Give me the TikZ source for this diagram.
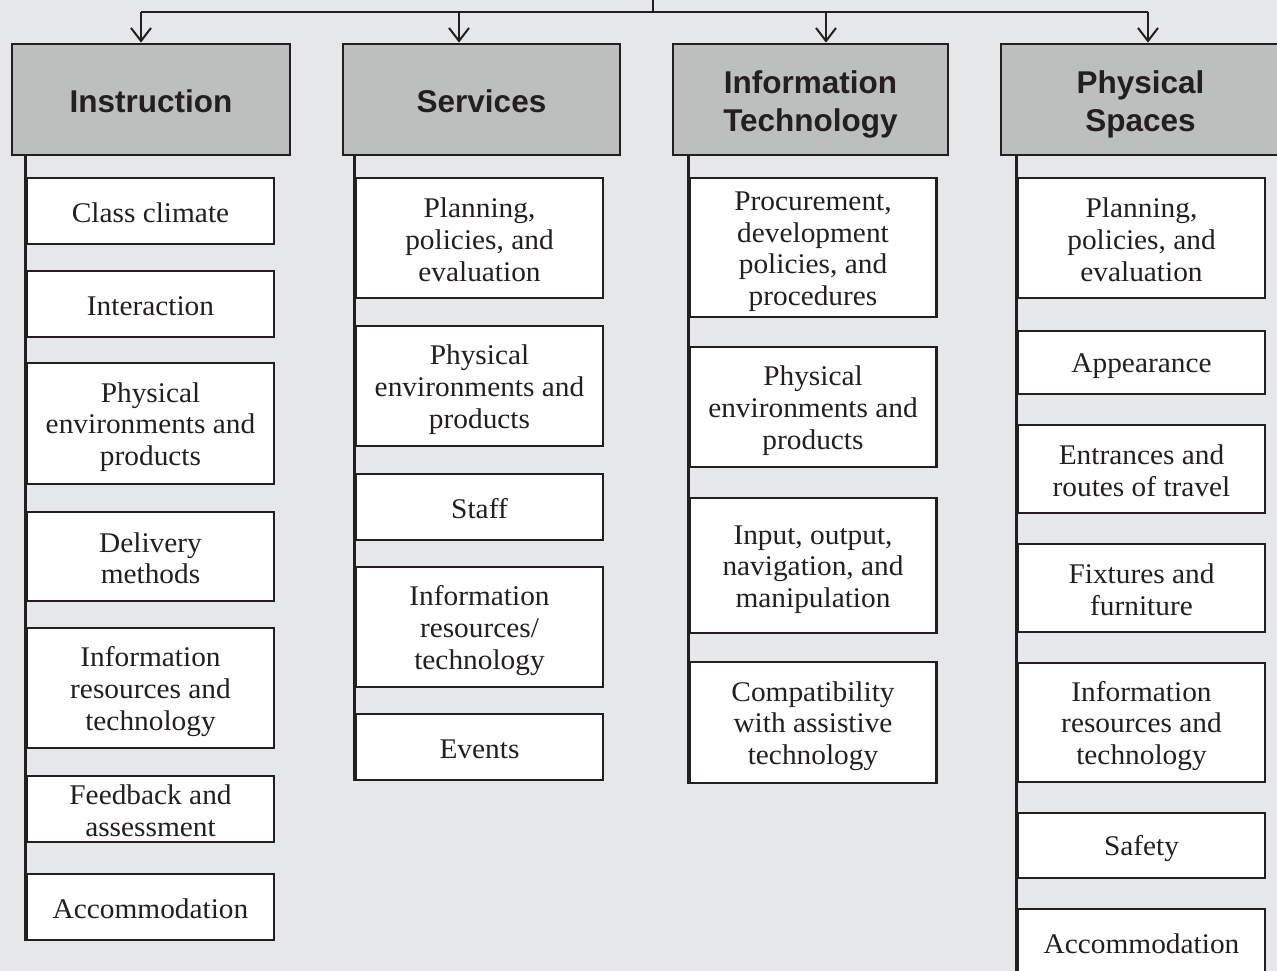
\documentclass[tikz,border=0pt]{standalone}
\usepackage{fontspec}
\setmainfont[FakeStretch=1.03]{Liberation Serif}
\newfontfamily\hdfont{Liberation Sans}
\usetikzlibrary{arrows.meta}
\definecolor{bgc}{HTML}{E6E7E8}
\definecolor{hdc}{HTML}{BDBFBE}
\definecolor{ink}{HTML}{231F20}
\newcommand\bodytop{\rule{0pt}{27pt}}
\newcommand\bodybot{\rule[-4pt]{0pt}{4pt}}
\newcommand\hdtop{\rule{0pt}{35.6pt}}
\newcommand\hdbot{\rule[-9pt]{0pt}{9pt}}
\tikzset{
  hdr/.style={draw=ink, line width=2.8pt, fill=hdc, align=flush center, inner sep=0pt,
    text width=268, text=ink, font=\hdfont\fontsize{31.5}{38}\selectfont\bfseries,
    execute at begin node=\hdtop, execute at end node=\hdbot},
  itembox/.style={draw=ink, line width=2.7pt, fill=white, align=flush center, inner sep=0pt,
    text width=240, text=ink, minimum width=247, font=\fontsize{28.5}{31.7}\selectfont,
    execute at begin node=\bodytop, execute at end node=\bodybot},
  spine/.style={draw=ink, line width=2.7pt},
  feed/.style={draw=ink, line width=2pt},
  feedarrow/.style={feed, -{Straight Barb[length=13pt,width=20pt,line width=2pt]}}
}
\begin{document}
\begin{tikzpicture}[x=1pt,y=-1pt]
\useasboundingbox[fill=bgc] (0,0) rectangle (1277,971);

% headers
\node[hdr, minimum width=278, minimum height=111] (h1) at (151,99.5) {Instruction};
\node[hdr, minimum width=277, minimum height=111] (h2) at (481.5,99.5) {Services};
\node[hdr, minimum width=275, minimum height=111] (h3) at (810.5,99.5) {Information\\Technology};
\node[hdr, minimum width=279, minimum height=111] (h4) at (1140.5,99.5) {Physical\\Spaces};

% top connectors
\coordinate (top) at (653,0);
\coordinate (tj) at (653,12);
\coordinate (t1) at (141,12);
\coordinate (t2) at (459,12);
\coordinate (t3) at (826,12);
\coordinate (t4) at (1148,12);
\draw[feed] (top) -- (tj);
\draw[feed] (t1) -- (t4);
\draw[feedarrow] (t1) -- (t1 |- h1.north);
\draw[feedarrow] (t2) -- (t2 |- h2.north);
\draw[feedarrow] (t3) -- (t3 |- h3.north);
\draw[feedarrow] (t4) -- (t4 |- h4.north);

% Instruction column
\node[itembox, minimum height=66] (i1) at (150.5,211) {Class climate};
\node[itembox, minimum height=66] (i2) at (150.5,304) {Interaction};
\node[itembox, minimum height=121] (i3) at (150.5,423.5) {Physical\\environments and\\products};
\node[itembox, minimum height=89] (i4) at (150.5,556.5) {Delivery\\methods};
\node[itembox, minimum height=120] (i5) at (150.5,688) {Information\\resources and\\technology};
\node[itembox, minimum height=66] (i6) at (150.5,809) {Feedback and\\assessment};
\node[itembox, minimum height=66] (i7) at (150.5,907) {Accommodation};

% Services column
\node[itembox, minimum height=120] (s1) at (479.5,238) {Planning,\\policies, and\\evaluation};
\node[itembox, minimum height=120] (s2) at (479.5,386) {Physical\\environments and\\products};
\node[itembox, minimum height=66] (s3) at (479.5,507) {Staff};
\node[itembox, minimum height=120] (s4) at (479.5,627) {Information\\resources/\\technology};
\node[itembox, minimum height=66] (s5) at (479.5,747) {Events};

% IT column
\node[itembox, minimum height=139] (c1) at (813,247.5) {Procurement,\\development\\policies, and\\procedures};
\node[itembox, minimum height=120] (c2) at (813,407) {Physical\\environments and\\products};
\node[itembox, minimum height=135] (c3) at (813,565.5) {Input, output,\\navigation, and\\manipulation};
\node[itembox, minimum height=121] (c4) at (813,722.5) {Compatibility\\with assistive\\technology};

% Physical Spaces column
\node[itembox, minimum height=120] (p1) at (1141.5,238) {Planning,\\policies, and\\evaluation};
\node[itembox, minimum height=63] (p2) at (1141.5,362.5) {Appearance};
\node[itembox, minimum height=88] (p3) at (1141.5,469) {Entrances and\\routes of travel};
\node[itembox, minimum height=88] (p4) at (1141.5,588) {Fixtures and\\furniture};
\node[itembox, minimum height=119] (p5) at (1141.5,722.5) {Information\\resources and\\technology};
\node[itembox, minimum height=65] (p6) at (1141.5,845.5) {Safety};
\node[itembox, minimum height=66] (p7) at (1141.5,942) {Accommodation};

% spines
\draw[spine] (i1.west |- h1.south) -- (i7.south west);
\draw[spine] (s1.west |- h2.south) -- (s5.south west);
\draw[spine] (c1.west |- h3.south) -- (c4.south west);
\draw[spine] (p1.west |- h4.south) -- (p7.south west);
\end{tikzpicture}
\end{document}
